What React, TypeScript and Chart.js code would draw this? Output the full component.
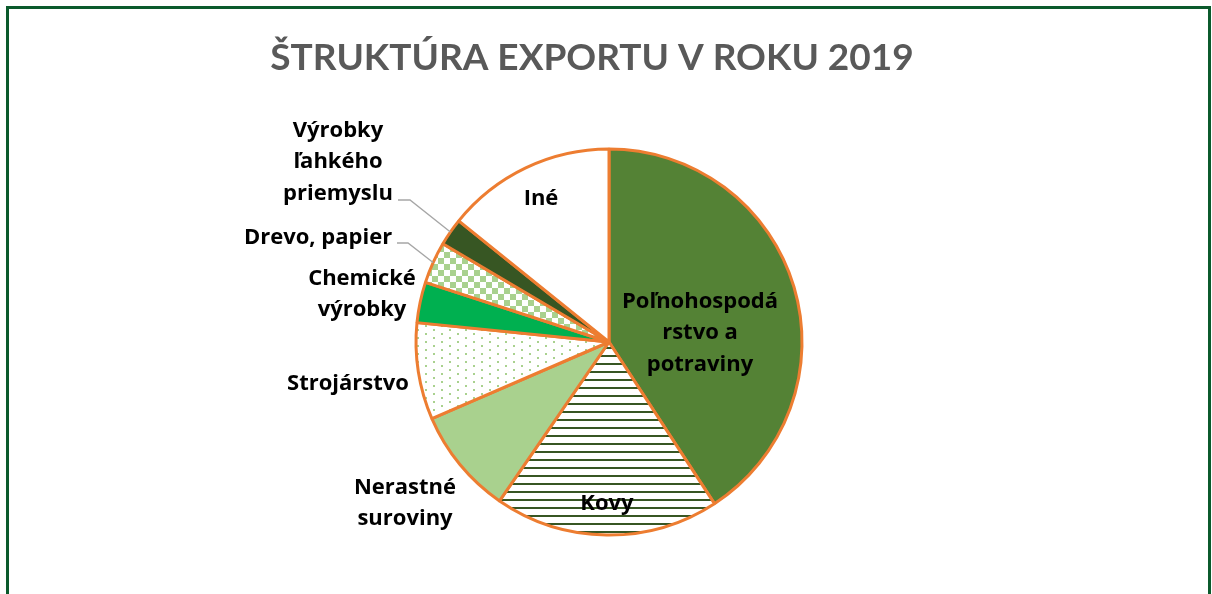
import { useEffect, useRef } from "react";
import { Chart, registerables } from "chart.js";

Chart.register(...registerables);

const chartTitle = "ŠTRUKTÚRA EXPORTU V ROKU 2019";
const categories = [
  "Poľnohospodárstvo a potraviny",
  "Kovy",
  "Nerastné suroviny",
  "Strojárstvo",
  "Chemické výrobky",
  "Drevo, papier",
  "Výrobky ľahkého priemyslu",
  "Iné",
];
const values = [40.8, 18.8, 8.9, 8.1, 3.4, 3.5, 2.3, 14.2];
const labelLines = [
  ["Poľnohospodá", "rstvo a", "potraviny"],
  ["Kovy"],
  ["Nerastné", "suroviny"],
  ["Strojárstvo"],
  ["Chemické", "výrobky"],
  ["Drevo, papier"],
  ["Výrobky", "ľahkého", "priemyslu"],
  ["Iné"],
];

// label layout (offsets from pie centre, px) — styling, not data
const labelOffsets = [
  [91, -9],
  [-2, 162],
  [-204, 161],
  [-261, 42],
  [-247, -48],
  [-291, -104],
  [-271, -180],
  [-68, -143],
];
// leader lines: [startDx, startDy, elbowDx, elbowDy] or null
const leaders: (number[] | null)[] = [null, null, null, null, null, [-212, -99, -201, -99], [-211, -142, -199, -142], null];

function makeTile(w: number, h: number, draw: (c: CanvasRenderingContext2D) => void) {
  const cv = document.createElement("canvas");
  cv.width = w;
  cv.height = h;
  const c = cv.getContext("2d")!;
  c.fillStyle = "#ffffff";
  c.fillRect(0, 0, w, h);
  draw(c);
  return cv;
}

export default function App() {
  const ref = useRef<HTMLCanvasElement | null>(null);

  useEffect(() => {
    const canvas = ref.current!;
    const ctx = canvas.getContext("2d")!;

    const stripes = ctx.createPattern(
      makeTile(8, 8, (c) => {
        c.fillStyle = "#375623";
        c.fillRect(0, 3, 8, 2);
      }),
      "repeat"
    )!;
    const dots = ctx.createPattern(
      makeTile(16, 8, (c) => {
        c.fillStyle = "#A9D18E";
        c.fillRect(1, 1, 2, 2);
        c.fillRect(9, 5, 2, 2);
      }),
      "repeat"
    )!;
    const checker = ctx.createPattern(
      makeTile(12, 12, (c) => {
        c.fillStyle = "#A9D18E";
        c.fillRect(0, 0, 6, 6);
        c.fillRect(6, 6, 6, 6);
      }),
      "repeat"
    )!;

    const colors: any[] = ["#548235", stripes, "#A9D18E", dots, "#00B050", checker, "#375623", "#FFFFFF"];

    const decor = {
      id: "decor",
      beforeDraw(chart: any) {
        const c = chart.ctx;
        c.save();
        c.fillStyle = "#ffffff";
        c.fillRect(0, 0, chart.width, chart.height);
        c.fillStyle = "#0B5A2C";
        c.fillRect(6, 6, 1205, 3);
        c.fillRect(6, 6, 3, chart.height);
        c.fillRect(1208, 6, 3, chart.height);
        c.font = "bold 37px Lato";
        c.fillStyle = "#595959";
        c.textAlign = "center";
        c.textBaseline = "alphabetic";
        c.fillText(chartTitle, 592, 70);
        c.restore();
      },
      afterDatasetsDraw(chart: any) {
        const c = chart.ctx;
        const meta = chart.getDatasetMeta(0);
        const a0 = meta.data[0] as any;
        const cx = a0.x;
        const cy = a0.y;
        c.save();
        meta.data.forEach((arc: any, i: number) => {
          const L = leaders[i];
          if (!L) return;
          const mid = (arc.startAngle + arc.endAngle) / 2;
          const ex = cx + Math.cos(mid) * arc.outerRadius;
          const ey = cy + Math.sin(mid) * arc.outerRadius;
          c.strokeStyle = "#A6A6A6";
          c.lineWidth = 1.3;
          c.beginPath();
          c.moveTo(cx + L[0], cy + L[1]);
          c.lineTo(cx + L[2], cy + L[3]);
          c.lineTo(ex, ey);
          c.stroke();
        });
        c.font = "bold 22px 'Open Sans'";
        c.fillStyle = "#000000";
        c.textAlign = "center";
        c.textBaseline = "middle";
        const lh = 31.5;
        labelLines.forEach((lines, i) => {
          const [dx, dy] = labelOffsets[i];
          const n = lines.length;
          lines.forEach((t, k) => {
            c.fillText(t, cx + dx, cy + dy + (k - (n - 1) / 2) * lh);
          });
        });
        c.restore();
      },
    };

    const chart = new Chart(canvas, {
      type: "pie",
      data: {
        labels: categories,
        datasets: [
          {
            data: values,
            backgroundColor: colors,
            borderColor: "#ED7D31",
            borderWidth: 3,
          },
        ],
      },
      options: {
        animation: false,
        responsive: false,
        radius: 193,
        layout: { padding: { left: 406, right: 400, top: 140, bottom: 50 } },
        plugins: {
          legend: { display: false },
          title: { display: false },
          tooltip: { enabled: false },
        },
      },
      plugins: [decor],
    });
    return () => chart.destroy();
  }, []);

  return (
    <div style={{ position: "fixed", left: 0, top: 0, width: 1212, height: 594, background: "#fff" }}>
      <canvas ref={ref} width={1212} height={594} style={{ display: "block" }} />
    </div>
  );
}
